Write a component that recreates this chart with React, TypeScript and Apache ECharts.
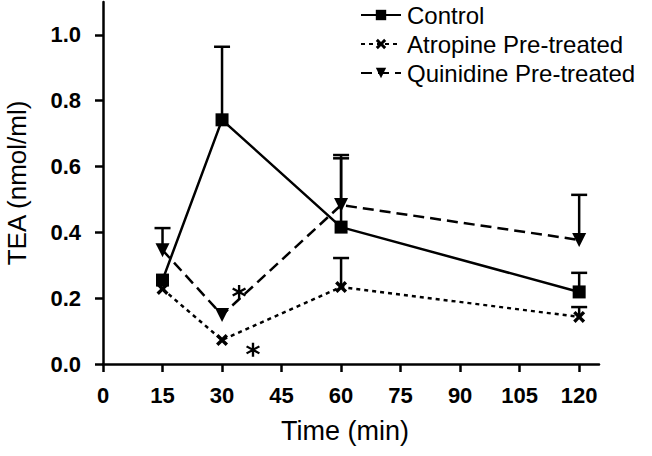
import React, { useEffect, useRef } from "react";
import * as echarts from "echarts";

const xTicks = [0, 15, 30, 45, 60, 75, 90, 105, 120];
const yTicks = [0, 0.2, 0.4, 0.6, 0.8, 1.0];

const controlData: [number, number][] = [[15, 0.255], [30, 0.742], [60, 0.416], [120, 0.219]];
const atropineData: [number, number][] = [[15, 0.228], [30, 0.073], [60, 0.234], [120, 0.143]];
const quinidineData: [number, number][] = [[15, 0.346], [30, 0.149], [60, 0.483], [120, 0.377]];

// [x, mean, upper error]
const controlErr: [number, number, number][] = [[30, 0.742, 0.964], [60, 0.416, 0.625], [120, 0.219, 0.277]];
const atropineErr: [number, number, number][] = [[60, 0.234, 0.322], [120, 0.143, 0.173]];
const quinidineErr: [number, number, number][] = [[15, 0.346, 0.413], [60, 0.483, 0.635], [120, 0.377, 0.514]];

// significance markers (*)
const asterisks: [number, number][] = [[34.3, 0.219], [37.8, 0.043]];

const FONT = "'Liberation Sans', Arial, sans-serif";
const BLACK = "#000";

const xMarker =
  "path://M2,0 L5,3 L8,0 L10,2 L7,5 L10,8 L8,10 L5,7 L2,10 L0,8 L3,5 L0,2 Z";

const starMarker =
  "path://M4.2,0 L5.8,0 L5.8,10 L4.2,10 Z " +
  "M0.27,3.19 L1.07,1.81 L9.73,6.81 L8.93,8.19 Z " +
  "M1.07,8.19 L0.27,6.81 L8.93,1.81 L9.73,3.19 Z";

function errSeries(data: [number, number, number][]) {
  return {
    type: "custom",
    silent: true,
    z: 1,
    data,
    renderItem: (params: any, api: any) => {
      const p0 = api.coord([api.value(0), api.value(1)]);
      const p1 = api.coord([api.value(0), api.value(2)]);
      const hw = 8;
      return {
        type: "group",
        children: [
          {
            type: "line",
            shape: { x1: p0[0], y1: p0[1], x2: p1[0], y2: p1[1] },
            style: { stroke: BLACK, lineWidth: 2.5 },
          },
          {
            type: "line",
            shape: { x1: p1[0] - hw, y1: p1[1], x2: p1[0] + hw, y2: p1[1] },
            style: { stroke: BLACK, lineWidth: 2.5 },
          },
        ],
      };
    },
  };
}

export default function App() {
  const ref = useRef<HTMLDivElement>(null);
  useEffect(() => {
    if (!ref.current) return;
    const chart = echarts.init(ref.current, null, { renderer: "svg" });
    chart.setOption({
      animation: false,
      backgroundColor: "#fff",
      grid: { left: 103, right: 53, top: 2, bottom: 92, outerBoundsMode: "none", containLabel: false },
      legend: {
        orient: "vertical",
        left: 355,
        top: -2,
        itemWidth: 40,
        itemHeight: 13,
        itemGap: 5,
        textStyle: { fontFamily: FONT, fontSize: 24, color: BLACK, padding: [0, 0, 0, 1] },
        data: ["Control", "Atropine Pre-treated", "Quinidine Pre-treated"],
      },
      xAxis: {
        type: "value",
        min: 0,
        max: 125,
        interval: 15,
        name: "Time (min)",
        nameLocation: "middle",
        nameGap: 53,
        nameTextStyle: { fontFamily: FONT, fontSize: 27, color: BLACK, padding: [0, 12, 0, 0] },
        axisLine: { lineStyle: { color: BLACK, width: 2.5 } },
        axisTick: { length: 8, lineStyle: { color: BLACK, width: 2.5 }, customValues: xTicks },
        axisLabel: {
          customValues: xTicks,
          fontFamily: FONT,
          fontSize: 22,
          fontWeight: "bold",
          color: BLACK,
          margin: 20,
        },
        splitLine: { show: false },
      },
      yAxis: {
        type: "value",
        min: 0,
        max: 1.1,
        interval: 0.2,
        name: "TEA (nmol/ml)",
        nameLocation: "middle",
        nameGap: 73,
        nameTextStyle: { fontFamily: FONT, fontSize: 26, color: BLACK },
        axisLine: { show: true, lineStyle: { color: BLACK, width: 2.5 } },
        axisTick: { show: true, length: 8, lineStyle: { color: BLACK, width: 2.5 }, customValues: yTicks },
        axisLabel: {
          customValues: yTicks,
          formatter: (v: number) => v.toFixed(1),
          fontFamily: FONT,
          fontSize: 22,
          fontWeight: "bold",
          color: BLACK,
          margin: 22,
        },
        splitLine: { show: false },
      },
      series: [
        errSeries(controlErr),
        errSeries(atropineErr),
        errSeries(quinidineErr),
        {
          name: "Control",
          type: "line",
          data: controlData,
          symbol: "rect",
          symbolSize: 13,
          itemStyle: { color: BLACK },
          lineStyle: { color: BLACK, width: 2.5, type: "solid" },
          z: 3,
        },
        {
          name: "Atropine Pre-treated",
          type: "line",
          data: atropineData,
          symbol: xMarker,
          symbolSize: 12,
          itemStyle: { color: BLACK },
          lineStyle: { color: BLACK, width: 2.5, type: [4, 4] },
          z: 3,
        },
        {
          name: "Quinidine Pre-treated",
          type: "line",
          data: quinidineData,
          symbol: "triangle",
          symbolRotate: 180,
          symbolSize: 14,
          itemStyle: { color: BLACK },
          lineStyle: { color: BLACK, width: 2.5, type: [11, 6] },
          z: 3,
        },
        {
          type: "scatter",
          data: asterisks,
          symbol: starMarker,
          symbolSize: 14,
          silent: true,
          itemStyle: { color: BLACK, opacity: 1 },
          z: 4,
        },
      ],
    });
    return () => chart.dispose();
  }, []);
  return (
    <div
      ref={ref}
      style={{ position: "absolute", left: 0, top: 0, width: 652, height: 456 }}
    />
  );
}
